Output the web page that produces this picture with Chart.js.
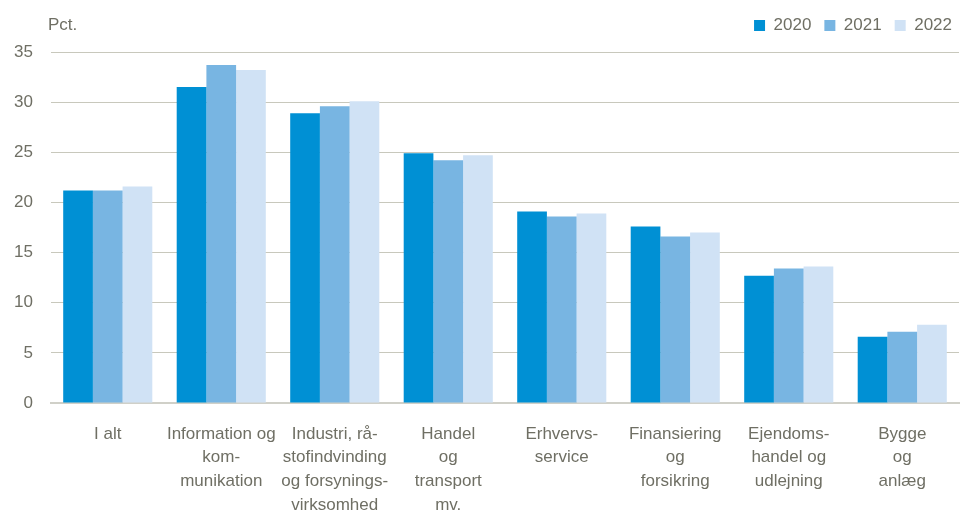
<!DOCTYPE html>
<html>
<head>
<meta charset="utf-8">
<script src="https://cdn.jsdelivr.net/npm/chart.js@4"></script>
<style>
  body { margin: 0; background: #fff; }
  #wrap { width: 963px; height: 513px; }
</style>
</head>
<body>
<div id="wrap"><canvas id="chart" width="963" height="513"></canvas></div>
<script>
// Kategorier (linjeskift som i originalen)
const categories = [
  ["I alt"],
  ["Information og", "kom-", "munikation"],
  ["Industri, rå-", "stofindvinding", "og forsynings-", "virksomhed"],
  ["Handel", "og", "transport", "mv."],
  ["Erhvervs-", "service"],
  ["Finansiering", "og", "forsikring"],
  ["Ejendoms-", "handel og", "udlejning"],
  ["Bygge", "og", "anlæg"],
];

// Andele i pct.
const values2020 = [21.2, 31.5, 28.9, 24.9, 19.1, 17.6, 12.7, 6.6];
const values2021 = [21.2, 33.7, 29.6, 24.2, 18.6, 16.6, 13.4, 7.1];
const values2022 = [21.6, 33.2, 30.1, 24.7, 18.9, 17.0, 13.6, 7.8];

const yearLabels = ["2020", "2021", "2022"];
const yTicks = [0, 5, 10, 15, 20, 25, 30, 35];

const textColor = "#6f6f64";
const fontFamily = "'Liberation Sans', Arial, sans-serif";

// Enhedstekst øverst til venstre
const unitLabel = {
  id: "unitLabel",
  afterDraw(chart) {
    const ctx = chart.ctx;
    ctx.save();
    ctx.fillStyle = textColor;
    ctx.font = "17px " + fontFamily;
    ctx.textBaseline = "middle";
    ctx.textAlign = "left";
    ctx.fillText("Pct.", 48, 25);
    ctx.restore();
  },
};

// Ekstra luft under legenden og lidt længere mod højre
const legendSpace = {
  id: "legendSpace",
  beforeInit(chart) {
    const origFit = chart.legend.fit;
    chart.legend.fit = function () {
      origFit.bind(chart.legend)();
      this.height += 8;
    };
  },
  afterUpdate(chart) {
    if (chart.legend) {
      chart.legend.left += 6;
      chart.legend.right += 6;
    }
  },
};

const ctx = document.getElementById("chart").getContext("2d");

new Chart(ctx, {
  type: "bar",
  data: {
    labels: categories,
    datasets: [
      { label: yearLabels[0], data: values2020, backgroundColor: "#0090d4" },
      { label: yearLabels[1], data: values2021, backgroundColor: "#78b5e2" },
      { label: yearLabels[2], data: values2022, backgroundColor: "#d0e2f5" },
    ],
  },
  options: {
    responsive: false,
    animation: false,
    layout: { padding: { left: 0, right: 4, top: 4, bottom: 0 } },
    datasets: {
      bar: { categoryPercentage: 0.785, barPercentage: 1.0 },
    },
    plugins: {
      legend: {
        position: "top",
        align: "end",
        labels: {
          boxWidth: 11,
          boxHeight: 11,
          padding: 13,
          color: textColor,
          font: { family: fontFamily, size: 17 },
        },
      },
      tooltip: { enabled: false },
    },
    scales: {
      x: {
        afterFit(axis) {
          axis.height = 110;
        },
        grid: { display: false, drawTicks: false },
        border: { display: true, color: "#d0d0c8", width: 2 },
        ticks: {
          color: textColor,
          padding: 19,
          maxRotation: 0,
          autoSkip: false,
          font: { family: fontFamily, size: 17, lineHeight: 1.4 },
        },
      },
      y: {
        min: 0,
        max: 35,
        afterBuildTicks(axis) {
          axis.ticks = yTicks.map((v) => ({ value: v }));
        },
        afterFit(axis) {
          axis.width = 51;
        },
        grid: { color: "#c8c8bc", lineWidth: 1, drawTicks: false },
        border: { display: false },
        ticks: {
          color: textColor,
          padding: 18,
          font: { family: fontFamily, size: 17 },
        },
      },
    },
  },
  plugins: [unitLabel, legendSpace],
});
</script>
</body>
</html>
